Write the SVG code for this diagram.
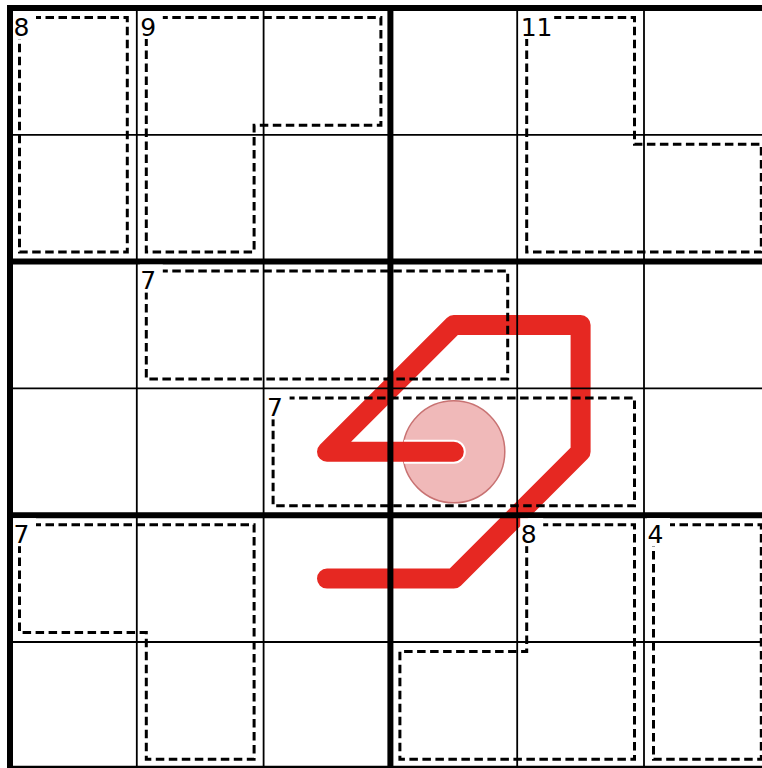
<svg xmlns="http://www.w3.org/2000/svg" width="762" height="768" viewBox="0 0 762 768">
<style>
.thin{stroke:#000;stroke-width:1.8;fill:none}
.thick{stroke:#000;stroke-width:6;fill:none}
.cage{stroke:#000;stroke-width:3;fill:none;stroke-dasharray:8.5 4.5}
.lbl{font-family:"DejaVu Sans",Verdana,sans-serif;font-size:25px;fill:#000}
.lblbg{fill:#fff}
</style>
<defs>
<clipPath id="bulbClip"><circle cx="453.8" cy="451.8" r="51"/></clipPath>
</defs>
<rect width="762" height="768" fill="#fff"/>
<g id="bulb">
<circle cx="453.8" cy="451.8" r="51" fill="#f0b9b9" stroke="#c87272" stroke-width="1.5"/>
</g>
<g id="thermo">
<path d="M403,451.8 H453.8" stroke="#fff" stroke-width="24" stroke-linecap="round" fill="none" clip-path="url(#bulbClip)"/>
<path d="M453.8,451.8 H327 L453.8,325 H580.6 V451.8 L453.8,578.6 H327" stroke="#e62822" stroke-width="20" stroke-linecap="round" stroke-linejoin="round" fill="none"/>
</g>
<g id="grid">
<path class="thin" d="M136.8,8 V768 M263.6,8 V768 M517.2,8 V768 M644,8 V768 M10,134.8 H762 M10,388.4 H762 M10,642 H762"/>
<path class="thick" d="M10,5 V768 M390.4,8 V768 M7,8 H762 M10,261.6 H762 M10,515.2 H762 M7,768.8 H762"/>
</g>
<g id="cages">
<rect class="cage" x="19.5" y="17.5" width="107.8" height="234.6"/>
<path class="cage" d="M146.3,17.5 H380.9 V125.3 H254.1 V252.1 H146.3 Z"/>
<path class="cage" d="M526.7,17.5 H634.5 V144.3 H761.3 V252.1 H526.7 Z"/>
<rect class="cage" x="146.3" y="271.1" width="361.4" height="107.8"/>
<rect class="cage" x="273.1" y="397.9" width="361.4" height="107.8"/>
<path class="cage" d="M19.5,524.7 H254.1 V759.3 H146.3 V632.5 H19.5 Z"/>
<path class="cage" d="M526.7,524.7 H634.5 V759.3 H399.9 V651.5 H526.7 Z"/>
<rect class="cage" x="653.5" y="524.7" width="107.8" height="234.6"/>
</g>
<g id="labels">
<g id="lbl-8a"><rect class="lblbg" x="13" y="11" width="23" height="28"/><text class="lbl" x="13.5" y="35.5">8</text></g>
<g id="lbl-9"><rect class="lblbg" x="139.8" y="11" width="23" height="28"/><text class="lbl" x="140.3" y="35.5">9</text></g>
<g id="lbl-11"><rect class="lblbg" x="520.2" y="11" width="34" height="28"/><text class="lbl" x="520.7" y="35.5">11</text></g>
<g id="lbl-7a"><rect class="lblbg" x="139.8" y="264.6" width="23" height="28"/><text class="lbl" x="140.3" y="289.1">7</text></g>
<g id="lbl-7b"><rect class="lblbg" x="266.6" y="391.4" width="23" height="28"/><text class="lbl" x="267.1" y="415.9">7</text></g>
<g id="lbl-7c"><rect class="lblbg" x="13" y="518.2" width="23" height="28"/><text class="lbl" x="13.5" y="542.7">7</text></g>
<g id="lbl-8b"><rect class="lblbg" x="520.2" y="518.2" width="23" height="28"/><text class="lbl" x="520.7" y="542.7">8</text></g>
<g id="lbl-4"><rect class="lblbg" x="647" y="518.2" width="23" height="28"/><text class="lbl" x="647.5" y="542.7">4</text></g>
</g>
</svg>
